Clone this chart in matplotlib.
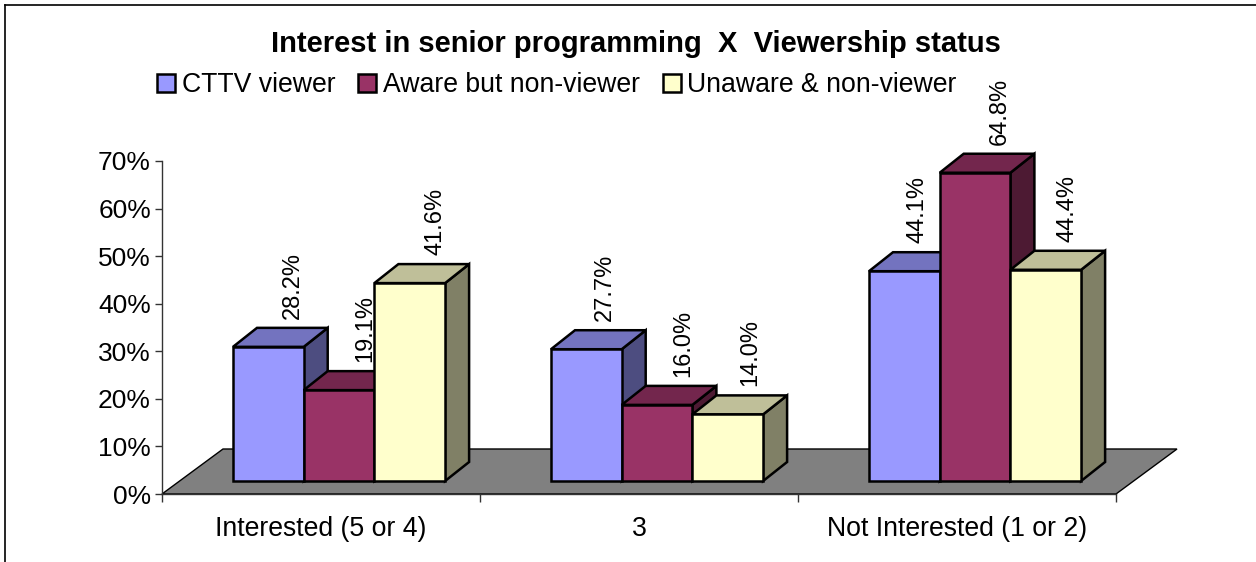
import matplotlib
matplotlib.use('Agg')
import matplotlib.pyplot as plt
from matplotlib.patches import Polygon, Rectangle
from matplotlib.lines import Line2D

plt.rcParams['font.family'] = ['Liberation Sans', 'DejaVu Sans']

categories = ['Interested (5 or 4)', '3', 'Not Interested (1 or 2)']
series = ['CTTV viewer', 'Aware but non-viewer', 'Unaware & non-viewer']
cttv = [28.2, 27.7, 44.1]
aware = [19.1, 16.0, 64.8]
unaware = [41.6, 14.0, 44.4]
yticks = [0, 10, 20, 30, 40, 50, 60, 70]

front = ['#9999FF', '#993366', '#FFFFCC']
top = ['#7373BF', '#73264D', '#BFBF99']
side = ['#4D4D80', '#4D1A33', '#808066']

W, H = 1256, 562
fig = plt.figure(figsize=(W / 100, H / 100), dpi=100)
L, R, T, B = 162, 1116, 161, 494
ax = fig.add_axes([L / W, 1 - B / H, (R - L) / W, (B - T) / H])
ax.set_xlim(0, 3)
ax.set_ylim(0, 70)
ax.patch.set_visible(False)
for s in ['top', 'right']:
    ax.spines[s].set_visible(False)
ax.spines['left'].set_color('#333333')
ax.spines['bottom'].set_color('#333333')
ax.spines['left'].set_linewidth(1)
ax.spines['bottom'].set_linewidth(1)

ppx = 3 / (R - L)   # x units per pixel
ppy = 70 / (B - T)  # y units per pixel

# floor
fdx, fdy = 61 * ppx, 45 * ppy
ax.add_patch(Polygon([(0, 0), (fdx, fdy), (3 + fdx, fdy), (3, 0)], closed=True,
                     facecolor='#808080', edgecolor='black', lw=1, clip_on=False, zorder=1))

# 3d bars
ddx, ddy = 24 * ppx, 19 * ppy
base = 13 * ppy
bw = 70.7 * ppx
start = 71 * ppx
label_shift = [[25, 26, 26], [19, 26, 23], [13, 25, 22]]
values = [cttv, aware, unaware]
z = 2
for c in range(len(categories)):
    for i in range(len(series)):
        v = values[i][c]
        x0 = c + start + i * bw
        x1 = x0 + bw
        y0 = base
        y1 = base + v
        st = dict(edgecolor='black', lw=1.8, joinstyle='miter', clip_on=False, zorder=z)
        ax.add_patch(Polygon([(x1, y0), (x1 + ddx, y0 + ddy), (x1 + ddx, y1 + ddy), (x1, y1)],
                             closed=True, facecolor=side[i], **st))
        ax.add_patch(Polygon([(x0, y1), (x0 + ddx, y1 + ddy), (x1 + ddx, y1 + ddy), (x1, y1)],
                             closed=True, facecolor=top[i], **st))
        ax.add_patch(Rectangle((x0, y0), x1 - x0, y1 - y0, facecolor=front[i], **st))
        ax.text((x0 + x1) / 2 + label_shift[c][i] * ppx, y1 + ddy + 9 * ppy, '%.1f%%' % v,
                rotation=90, ha='center', va='bottom', fontsize=17, clip_on=False, zorder=50)
        z += 1

ax.set_yticks(yticks)
ax.set_yticklabels(['%d%%' % t for t in yticks], fontsize=19)
ax.set_xticks([0, 1, 2, 3])
ax.set_xticklabels([])
ax.tick_params(axis='y', length=5, width=1, color='#333333', pad=3)
ax.tick_params(axis='x', length=6, width=1, color='#333333')
for c, name in enumerate(categories):
    ax.annotate(name, (c + 0.5, 0), xytext=(0, -35), xycoords='data',
                textcoords='offset pixels', ha='center', va='center', fontsize=19.2)

# title and legend
fig.text(636 / W, 1 - 44 / H, 'Interest in senior programming  X  Viewership status',
         ha='center', va='center', fontsize=21, fontweight='bold')
handles = [Rectangle((0, 0), 1, 1, facecolor=front[i], edgecolor='black', lw=1.8) for i in range(3)]
fig.legend(handles, series, loc='center', bbox_to_anchor=(557 / W, 1 - 85.5 / H), ncol=3,
           frameon=False, fontsize=19.2, handlelength=0.68, handleheight=0.68,
           handletextpad=0.25, columnspacing=0.85, borderpad=0, borderaxespad=0)

# chart frame, open on the right and at the bottom
fig.add_artist(Line2D([5 / W, 5 / W], [0, 1 - 5 / H], color='black', lw=1.2))
fig.add_artist(Line2D([5 / W, 1], [1 - 5 / H, 1 - 5 / H], color='black', lw=1.2))

fig.savefig('out.png', dpi=100)
